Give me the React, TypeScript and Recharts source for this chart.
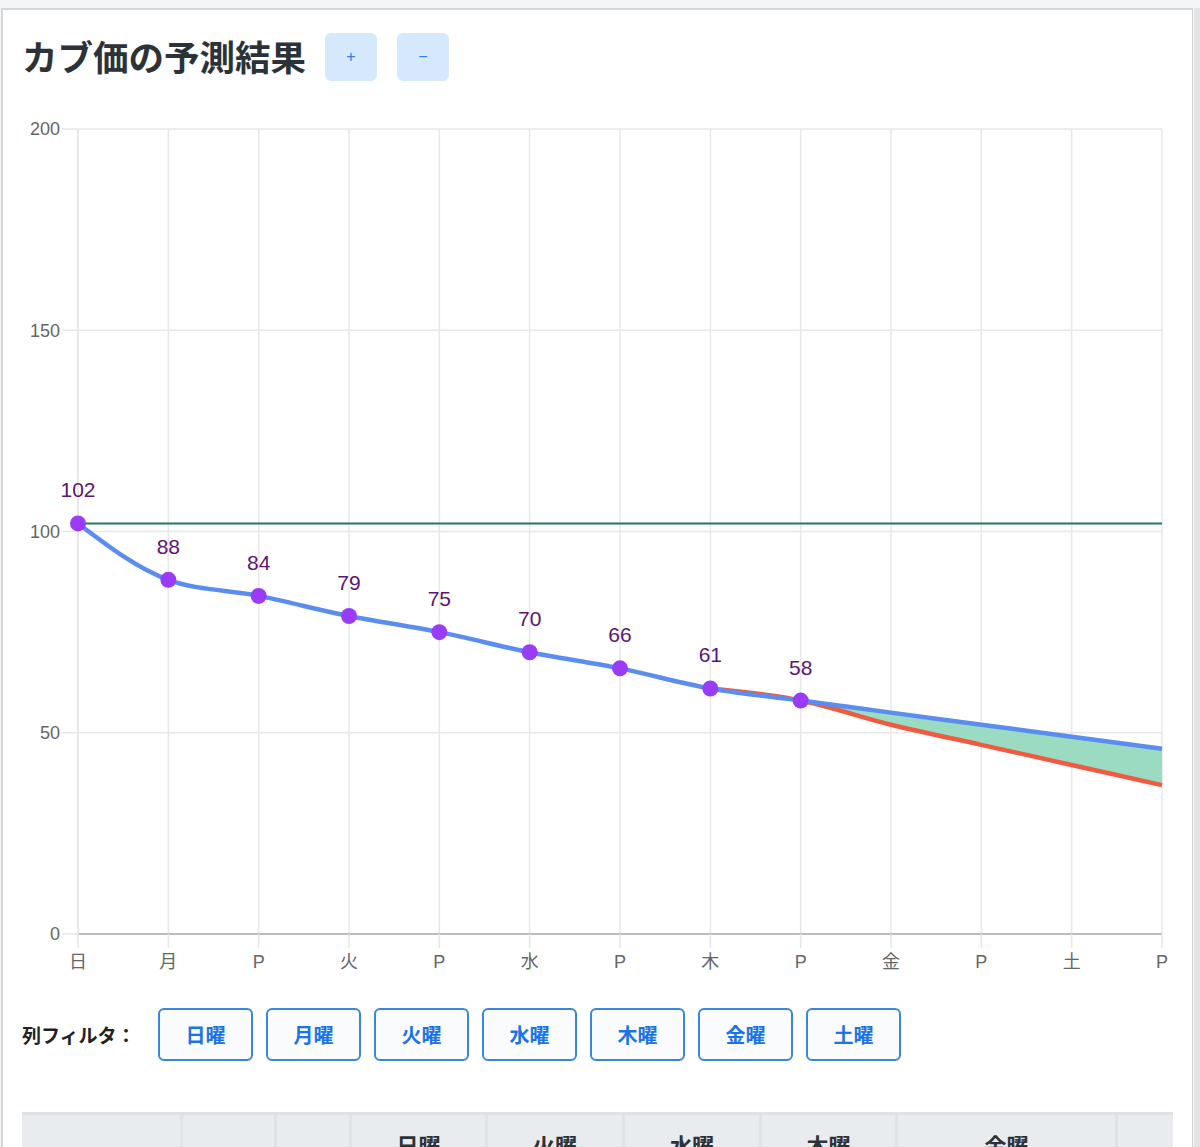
import {
  ComposedChart, Line, Area, XAxis, YAxis, CartesianGrid,
  ReferenceLine, LabelList,
} from "recharts";

const days = ["日", "月", "P", "火", "P", "水", "P", "木", "P", "金", "P", "土", "P"];
const actualPrices = [102, 88, 84, 79, 75, 70, 66, 61, 58, null, null, null, null];
const upperForecast = [102, 88, 84, 79, 75, 70, 66, 61, 58, 55, 52, 49, 46];
const lowerForecast = [null, null, null, null, null, null, null, 61, 58, 52, 47, 42, 37];
const buyPrice = 102;
const yTicks = [0, 50, 100, 150, 200];
const filterDays = ["日曜", "月曜", "火曜", "水曜", "木曜", "金曜", "土曜"];
const tableHeads = ["", "", "", "日曜", "火曜", "水曜", "木曜", "金曜", ""];
const tableCols = [158, 94, 75, 136, 137, 137, 136, 220, 58];

// x は半日ごとの番号
const xTicks = days.map((_, i) => i);
const data = days.map((d, i) => ({
  idx: i,
  day: d,
  actual: actualPrices[i],
  upper: upperForecast[i],
  lower: lowerForecast[i],
  band: lowerForecast[i] != null ? [lowerForecast[i], upperForecast[i]] : null,
}));

const FONT = '"Liberation Sans", Arial, "Noto Sans CJK JP", sans-serif';
const JP = '"Noto Sans CJK JP", "Noto Sans", sans-serif';

export default function App() {
  return (
    <div style={{ position: "absolute", left: 0, top: 0, width: 1200, height: 1147, overflow: "hidden", background: "#f4f5f6", fontFamily: JP }}>
      {/* card */}
      <div style={{ position: "absolute", left: 1, top: 8, width: 1192, height: 1160, background: "#fff", borderTop: "2px solid #d6d6d6", borderLeft: "2px solid #d6d6d6", borderRight: "1px solid #d6d6d6", boxSizing: "border-box" }} />
      <div style={{ position: "absolute", left: 1194, top: 8, width: 6, height: 1160, background: "#e4e4e4" }} />

      <div style={{ position: "absolute", left: 22, top: 30, fontSize: 35.5, fontWeight: 700, color: "#2c3338", lineHeight: "52px" }}>
        カブ価の予測結果
      </div>
      {["+", "−"].map((t, i) => (
        <div key={i} style={{ position: "absolute", left: 325 + i * 72, top: 33, width: 52, height: 48, borderRadius: 6, background: "#d6e8fc", color: "#2f7ee6", fontSize: 16, display: "flex", alignItems: "center", justifyContent: "center", fontFamily: FONT }}>
          {t}
        </div>
      ))}

      <div style={{ position: "absolute", left: 0, top: 0 }}>
        <ComposedChart width={1200} height={1000} data={data} margin={{ top: 129, right: 38, left: 0, bottom: 26 }}>
          <CartesianGrid stroke="#e8e8e8" strokeWidth={1.5} />
          <XAxis
            dataKey="idx"
            type="number"
            domain={[0, 12]}
            ticks={xTicks}
            tickFormatter={(v: number) => days[v]}
            height={40}
            tickSize={14}
            tickMargin={7}
            axisLine={{ stroke: "#bdbdbd", strokeWidth: 2 }}
            tickLine={{ stroke: "#e6e6e6", strokeWidth: 1.5 }}
            tick={{ fontSize: 18, fill: "#666", fontFamily: FONT }}
            interval={0}
          />
          <YAxis
            domain={[0, 200]}
            ticks={yTicks}
            width={78}
            tickSize={16}
            tickMargin={2}
            axisLine={{ stroke: "#e6e6e6", strokeWidth: 1.5 }}
            tickLine={{ stroke: "#e6e6e6", strokeWidth: 1.5 }}
            tick={{ fontSize: 18, fill: "#666", fontFamily: FONT }}
          />
          <ReferenceLine y={buyPrice} stroke="#23785c" strokeWidth={2} />
          <Area
            type="monotone"
            dataKey="band"
            stroke="none"
            fill="#9adbc1"
            fillOpacity={1}
            isAnimationActive={false}
          />
          <Line type="monotone" dataKey="lower" stroke="#f15a40" strokeWidth={4.5} dot={false} isAnimationActive={false} />
          <Line type="monotone" dataKey="upper" stroke="#5a8dee" strokeWidth={4.5} dot={false} isAnimationActive={false} />
          <Line
            type="monotone"
            dataKey="actual"
            stroke="none"
            dot={{ r: 8, fill: "#9a3cf6", stroke: "none" }}
            activeDot={false}
            isAnimationActive={false}
          >
            <LabelList dataKey="actual" position="top" offset={26} fill="#5c1572" fontSize={21} fontFamily={FONT} />
          </Line>
        </ComposedChart>
      </div>

      <div style={{ position: "absolute", left: 22, top: 1020, fontSize: 19, fontWeight: 600, color: "#222", lineHeight: "30px" }}>
        列フィルタ：
      </div>
      {filterDays.map((d, i) => (
        <div key={d} style={{ position: "absolute", left: 158 + i * 108, top: 1008, width: 95, height: 53, boxSizing: "border-box", border: "2px solid #3a86dc", borderRadius: 6, background: "#fafbfc", color: "#1a73e8", fontWeight: 700, fontSize: 20, display: "flex", alignItems: "center", justifyContent: "center" }}>
          {d}
        </div>
      ))}

      <div style={{ position: "absolute", left: 22, top: 1112, display: "flex", borderTop: "3px solid #dee2e6", background: "#e9ecef", height: 60 }}>
        {tableHeads.map((h, i) => (
          <div key={i} style={{ width: tableCols[i], boxSizing: "border-box", borderLeft: i > 0 ? "3px solid #dfe2e6" : "none", textAlign: "center", paddingTop: 13, fontSize: 22, fontWeight: 700, color: "#2c3338" }}>
            {h}
          </div>
        ))}
      </div>
    </div>
  );
}
